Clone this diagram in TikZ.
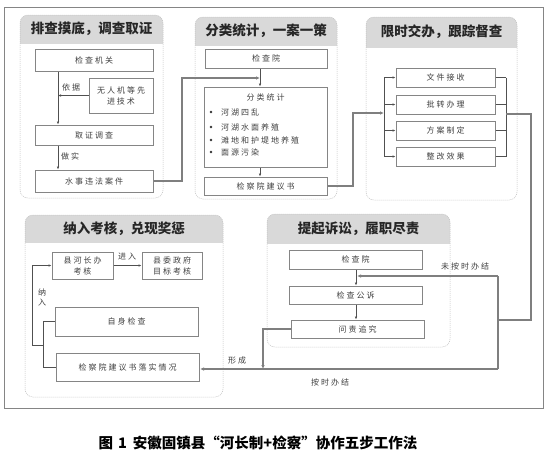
\documentclass[tikz,border=0pt]{standalone}
\usepackage{fontspec}
\newfontfamily\cjk{Noto Sans CJK SC}
\newfontfamily\cjkbox[LetterSpace=25]{Noto Sans CJK SC}
\usetikzlibrary{arrows.meta}
\definecolor{hdr}{HTML}{D9D9D9}
\definecolor{boxgray}{HTML}{858585}
\definecolor{txtgray}{HTML}{404040}
\definecolor{conngray}{HTML}{7F7F7F}
\definecolor{arrgray}{HTML}{505050}
\definecolor{pnlgray}{HTML}{BFBFBF}
\newcommand\mypanel[7]{%
  \begin{scope}\clip (#1,#2) rectangle (#3,#4);
    \fill[hdr,rounded corners=8pt] (#1,#2) rectangle (#3,#5);\end{scope}
  \draw[pnl,rounded corners=8pt] (#1,#2) rectangle (#3,#5);
  \node[ttl] (#7) at ({(#1+#3)/2},{(#2+#4)/2}) {#6};}
\begin{document}
\begin{tikzpicture}[x=1pt,y=-1pt,
  box/.style={draw=boxgray,line width=1pt,fill=white,inner sep=0pt,align=center,
    font=\cjkbox\fontsize{8}{11}\selectfont,text=txtgray},
  btxt/.style={inner sep=0pt,font=\cjkbox\fontsize{8}{11}\selectfont,text=txtgray},
  bul/.style={circle,fill=black!80,inner sep=0pt,minimum size=2.6pt},
  lbl/.style={inner sep=0pt,font=\cjkbox\fontsize{8}{10}\selectfont,text=txtgray,align=center},
  ttl/.style={inner sep=0pt,font=\cjk\bfseries\fontsize{13.5}{15}\selectfont,text=black!85},
  pnl/.style={draw=pnlgray,line width=0.5pt,dash pattern=on 1pt off 1pt},
  conn/.style={draw=conngray,line width=1.4pt},
  arr/.style={draw=arrgray,line width=0.6pt,-{Latex[length=3pt,width=2.6pt]}},
  thn/.style={draw=arrgray,line width=0.6pt},
  carr/.style={conn,-{Latex[length=4pt,width=3.5pt]}}]
\useasboundingbox (0,0) rectangle (554,461);
\fill[white] (0,0) rectangle (554,461);
\draw[draw=boxgray,line width=0.8pt] (4,7) rectangle (543,408);

% panels
\mypanel{20}{15}{163}{43}{198}{排查摸底，调查取证}{t1}
\mypanel{195}{17}{337}{45}{199}{分类统计，一案一策}{t2}
\mypanel{366}{17}{517}{47}{200}{限时交办，跟踪督查}{t3}
\mypanel{25}{215}{223}{242}{397}{纳入考核，兑现奖惩}{t4}
\mypanel{267}{214}{450}{243}{347}{提起诉讼，履职尽责}{t5}

% panel 1
\node[box,minimum width=118pt,minimum height=22pt] (jcjg) at (94,60) {检查机关};
\node[box,minimum width=64pt,minimum height=35pt] (wrj) at (121,95.5) {无人机等先\\进技术};
\node[box,minimum width=118pt,minimum height=20pt] (qzdc) at (94,135) {取证调查};
\node[box,minimum width=118pt,minimum height=22pt] (ssw) at (94,181) {水事违法案件};
\coordinate (x1) at (58,0);
\draw[arr] (jcjg.south -| x1) -- (qzdc.north -| x1);
\draw[arr] (wrj.west) -- (wrj.west -| x1);
\draw[arr] (qzdc.south -| x1) -- (ssw.north -| x1);
\node[lbl] (yj) at (71,87) {依据};
\node[lbl] (zs1) at (70,156) {做实};

% panel 2
\node[box,minimum width=122pt,minimum height=19pt] (jcy2) at (266,58.5) {检查院};
\node[box,minimum width=123pt,minimum height=80pt] (flt) at (265.5,127) {};
\node[box,minimum width=123pt,minimum height=18pt] (jys) at (265.5,186) {检察院建议书};
\node[btxt] (flt0) at (265.5,97.5) {分类统计};
\node[bul] (b1) at (211,112) {};
\node[bul] (b2) at (211,127) {};
\node[bul] (b3) at (211,140) {};
\node[bul] (b4) at (211,152) {};
\node[btxt,anchor=west] (f1) at (221,112) {河湖四乱};
\node[btxt,anchor=west] (f2) at (221,127) {河湖水面养殖};
\node[btxt,anchor=west] (f3) at (221,140) {滩地和护堤地养殖};
\node[btxt,anchor=west] (f4) at (221,152) {面源污染};
\coordinate (x2) at (260,0);
\draw[arr] (jcy2.south -| x2) -- (flt.north -| x2);
\draw[arr] (flt.south -| x2) -- (jys.north -| x2);
\coordinate (j2) at (260,78);
\draw[carr] (ssw.east) -- (182,181) |- (j2);

% panel 3
\node[box,minimum width=99pt,minimum height=19pt] (wj) at (445.5,77.5) {文件接收};
\node[box,minimum width=99pt,minimum height=19pt] (pz) at (445.5,104.5) {批转办理};
\node[box,minimum width=99pt,minimum height=19pt] (fa) at (445.5,130.5) {方案制定};
\node[box,minimum width=99pt,minimum height=19pt] (zg) at (445.5,156.5) {整改效果};
\coordinate (l3) at (384,113);
\coordinate (r3) at (506,114);
\draw[thn] (wj.west -| l3) -- (zg.west -| l3);
\foreach \b in {wj,pz,fa,zg}{\draw[arr] (\b.west -| l3) -- (\b.west);}
\draw[thn] (wj.east -| r3) -- (zg.east -| r3);
\foreach \b in {wj,pz,fa,zg}{\draw[thn] (\b.east) -- (\b.east -| r3);}
\draw[carr] (jys.east) -- (353,186) |- (l3);

% panel 5
\node[box,minimum width=133pt,minimum height=19pt] (jcy5) at (355.5,259.5) {检查院};
\node[box,minimum width=133pt,minimum height=18pt] (jcgs) at (355.5,295) {检查公诉};
\node[box,minimum width=133pt,minimum height=18pt] (wz) at (357.5,329) {问责追究};
\coordinate (x5) at (356,0);
\draw[arr] (jcy5.south -| x5) -- (jcgs.north -| x5);
\draw[arr] (jcgs.south -| x5) -- (wz.north -| x5);
\coordinate (t5) at (498,276);
\coordinate (b5) at (498,369);
\coordinate (e5) at (357,276);
\draw[conn] (r3) -- (531,114) |- (498,320);
\draw[conn] (t5) -- (b5);
\draw[carr] (t5) -- (e5);
\draw[carr] (b5) -- (b5 -| 200,0);
\coordinate (d5) at (263,369);
\draw[carr] (wz.west) -| (d5);
\node[lbl] (wa) at (465,266) {未按时办结};
\node[lbl] (aa) at (330,382) {按时办结};
\node[lbl] (xc) at (237,360) {形成};

% panel 4
\node[box,minimum width=61pt,minimum height=27pt] (xhz) at (82.5,265.5) {县河长办\\考核};
\node[box,minimum width=60pt,minimum height=27pt] (xwz) at (172,265.5) {县委政府\\目标考核};
\node[box,minimum width=143pt,minimum height=29pt] (zsj) at (126.5,321.5) {自身检查};
\node[box,minimum width=143pt,minimum height=28pt] (lss) at (127.5,367) {检察院建议书落实情况};
\draw[arr] (xhz.east) -- (xwz.west);
\node[lbl] (jr) at (127,257) {进入};
\draw[thn] (zsj.west) -- (43,321.5) |- (lss.west);
\coordinate (k4) at (43,345);
\draw[arr] (k4) -- (32,345) |- (xhz.west);
\node[lbl] (nr) at (42,297.5) {纳\\入};

% caption
\node[inner sep=0pt,font=\cjk\bfseries\fontsize{14.5}{16}\selectfont] (cap) at (258,443) {图\hspace{5pt}1\hspace{6pt}安徽固镇县“河长制+检察”协作五步工作法};
\end{tikzpicture}
\end{document}
